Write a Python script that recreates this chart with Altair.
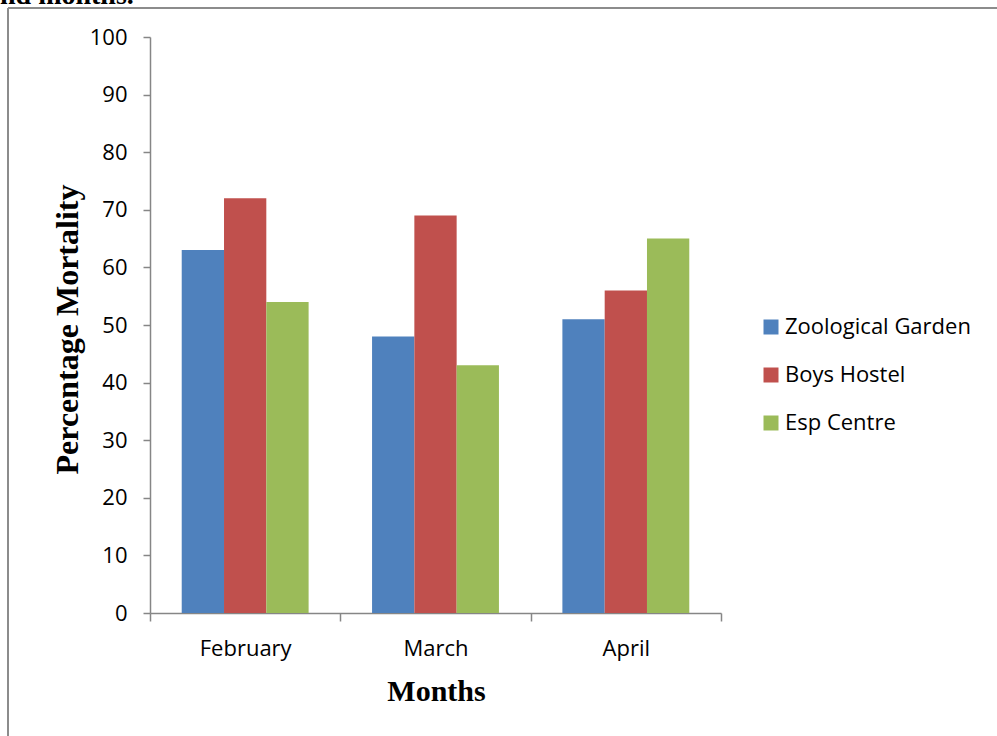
import altair as alt
import pandas as pd

months = ["February", "March", "April"]
sites = ["Zoological Garden", "Boys Hostel", "Esp Centre"]
zoological = [63, 48, 51]
boys_hostel = [72, 69, 56]
esp_centre = [54, 43, 65]
colors = ["#4F81BD", "#C0504D", "#9BBB59"]
y_ticks = list(range(0, 101, 10))

rows = []
for i, m in enumerate(months):
    for s, vals in zip(sites, [zoological, boys_hostel, esp_centre]):
        rows.append({"Month": m, "Site": s, "Value": vals[i]})
df = pd.DataFrame(rows)

LABEL_FONT = "Open Sans"
TITLE_FONT = "Liberation Serif"
AXIS_GRAY = "#868686"

bars = alt.Chart(df).mark_bar().encode(
    x=alt.X(
        "Month:N",
        sort=months,
        scale=alt.Scale(paddingInner=0, paddingOuter=0),
        axis=alt.Axis(
            title="Months",
            labelAngle=0,
            labelFont=LABEL_FONT,
            labelFontSize=22,
            labelColor="#000000",
            labelPadding=17,
            tickBand="extent",
            tickSize=8,
            tickColor=AXIS_GRAY,
            domainColor=AXIS_GRAY,
            domainWidth=1.5,
            tickWidth=1.5,
            titleFont=TITLE_FONT,
            titleFontSize=30,
            titleFontWeight="bold",
            titleColor="#000000",
            titleX=286,
            titleY=87,
            titleBaseline="alphabetic",
            titleAlign="center",
        ),
    ),
    xOffset=alt.XOffset("Site:N", sort=sites, scale=alt.Scale(paddingInner=0, paddingOuter=0.75)),
    y=alt.Y(
        "Value:Q",
        scale=alt.Scale(domain=[0, 100], nice=False),
        axis=alt.Axis(
            values=y_ticks,
            title="Percentage Mortality",
            grid=False,
            labelFont=LABEL_FONT,
            labelFontSize=22,
            labelColor="#000000",
            labelPadding=16,
            tickSize=7,
            tickColor=AXIS_GRAY,
            domainColor=AXIS_GRAY,
            domainWidth=1.5,
            tickWidth=1.5,
            titleFont=TITLE_FONT,
            titleFontSize=32,
            titleFontWeight="bold",
            titleColor="#000000",
            titleAngle=270,
            titleX=-73,
            titleY=292,
            titleAlign="center",
            titleBaseline="alphabetic",
        ),
    ),
    color=alt.Color(
        "Site:N",
        sort=sites,
        scale=alt.Scale(domain=sites, range=colors),
        legend=alt.Legend(
            title=None,
            orient="none",
            legendX=610,
            legendY=279,
            padding=0,
            symbolType="square",
            symbolSize=225,
            symbolStrokeWidth=0,
            labelFont=LABEL_FONT,
            labelFontSize=22,
            labelColor="#000000",
            labelOffset=3,
            labelLimit=400,
            rowPadding=26,
        ),
    ),
)

frame_df = pd.DataFrame({"k": [0]})
frame_left = alt.Chart(frame_df).mark_rule(color="#8c8c8c", strokeWidth=2).encode(
    x=alt.value(-142), y=alt.value(-29), y2=alt.value(720)
)
frame_top = alt.Chart(frame_df).mark_rule(color="#8c8c8c", strokeWidth=2).encode(
    x=alt.value(-142), x2=alt.value(900), y=alt.value(-29)
)
top_text = alt.Chart(pd.DataFrame({"t": ["nd months."]})).mark_text(
    font=TITLE_FONT, fontSize=28, fontWeight="bold", align="left", baseline="alphabetic", color="#000000"
).encode(x=alt.value(-150), y=alt.value(-33), text="t:N")

chart = alt.layer(frame_left, frame_top, top_text, bars).properties(
    width=571,
    height=576,
    background="#ffffff",
    autosize=alt.AutoSizeParams(type="none"),
    padding={"left": 150, "top": 37, "right": 276, "bottom": 123},
).configure_view(stroke=None)

chart.save("out.html", embed_options={"renderer": "svg", "actions": False})
